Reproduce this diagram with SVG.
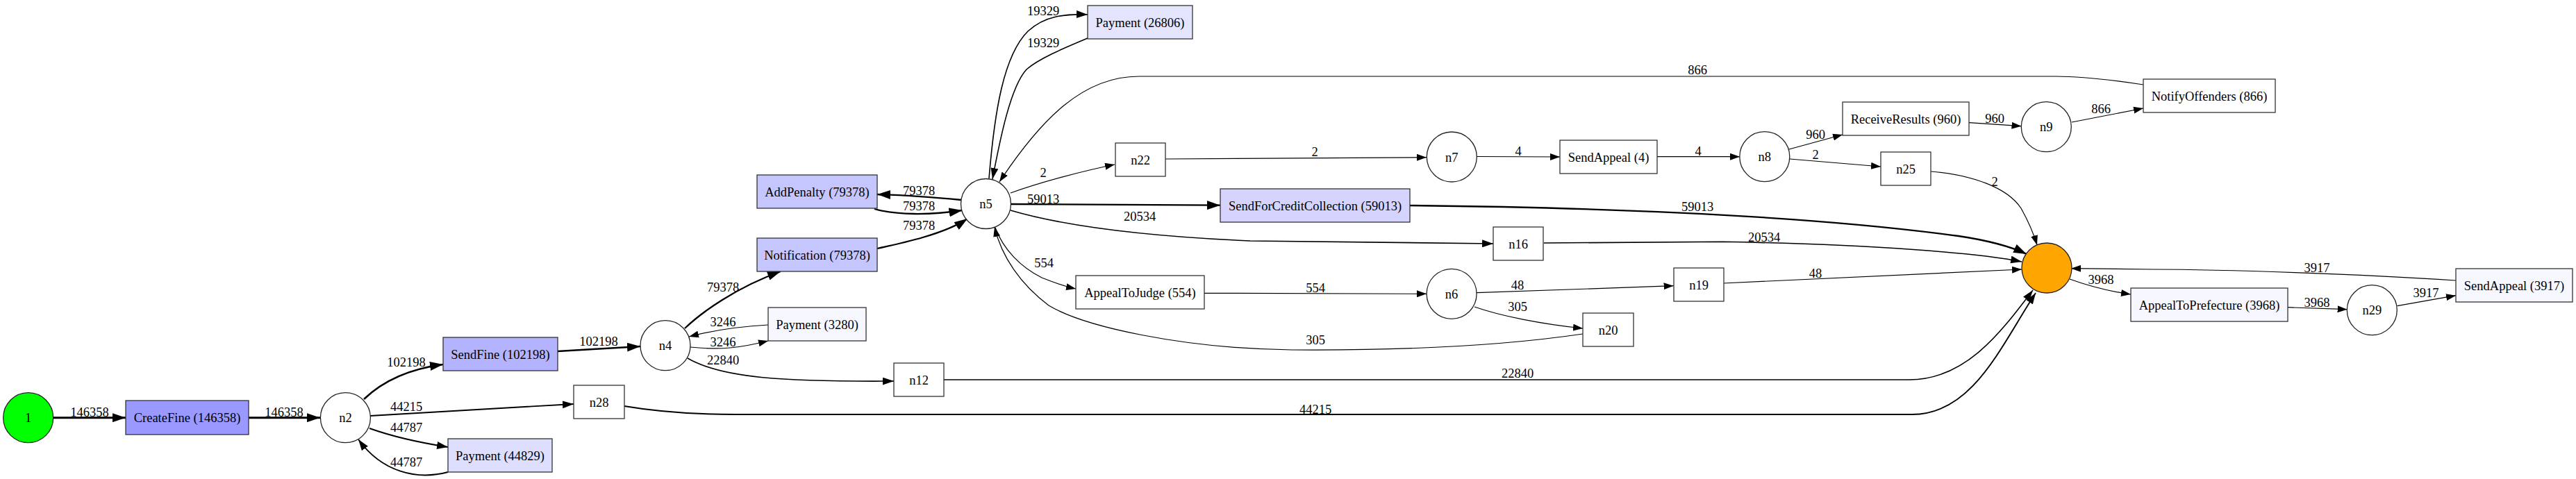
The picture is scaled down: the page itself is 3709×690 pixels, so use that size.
<svg xmlns="http://www.w3.org/2000/svg" width="3709" height="690" viewBox="0 0 3709 690">
<style>
text{font-family:"Liberation Serif","Times New Roman",serif;font-size:18.5px;fill:#000}
.nt{text-anchor:middle}
.el{text-anchor:middle}
.box{stroke:#333;stroke-width:1.3}
.circ{fill:#fff;stroke:#222;stroke-width:1.3}
.e{fill:none;stroke:#000}
.w1{stroke-width:1.2;marker-end:url(#a1)}
.w2{stroke-width:1.6;marker-end:url(#a2)}
.w3{stroke-width:1.9;marker-end:url(#a2)}
.w4{stroke-width:2.3;marker-end:url(#a3)}
.w5{stroke-width:2.6;marker-end:url(#a3)}
.w6{stroke-width:3;marker-end:url(#a3)}
</style>
<defs>
<marker id="a1" markerUnits="userSpaceOnUse" viewBox="0 0 14 10" markerWidth="14" markerHeight="10" refX="14" refY="5" orient="auto"><path d="M0,0 L14,5 L0,10 z" fill="#000"/></marker>
<marker id="a2" markerUnits="userSpaceOnUse" viewBox="0 0 16 11" markerWidth="16" markerHeight="11" refX="16" refY="5.5" orient="auto"><path d="M0,0 L16,5.5 L0,11 z" fill="#000"/></marker>
<marker id="a3" markerUnits="userSpaceOnUse" viewBox="0 0 19 13" markerWidth="19" markerHeight="13" refX="19" refY="6.5" orient="auto"><path d="M0,0 L19,6.5 L0,13 z" fill="#000"/></marker>
</defs>
<rect width="3709" height="690" fill="#fff"/>
<g id="connectors">
<path class="e w6" d="M77,601.7 L181,601.7"/><text class="el" x="129" y="600">146358</text>
<path class="e w6" d="M358,601.7 L461,601.7"/><text class="el" x="409" y="600">146358</text>
<path class="e w5" d="M524,575 C548,552 585,532 638,525"/><text class="el" x="585" y="527.5">102198</text>
<path class="e w3" d="M533,599 C620,594 750,586 826,582"/><text class="el" x="585" y="591.5">44215</text>
<path class="e w3" d="M532,617 C560,627 600,637 645,644"/><text class="el" x="585" y="621.5">44787</text>
<path class="e w3" d="M645,680 C600,692 550,680 516,633"/><text class="el" x="585" y="671.5">44787</text>
<path class="e w5" d="M803,506 L922,499"/><text class="el" x="862" y="498">102198</text>
<path class="e w4" d="M986,473 C1010,450 1060,414 1124,391"/><text class="el" x="1041" y="420">79378</text>
<path class="e w1" d="M1106,468 C1070,470 1030,475 992,485"/><text class="el" x="1041" y="470">3246</text>
<path class="e w1" d="M994,500 C1040,505 1070,500 1106,491"/><text class="el" x="1041" y="499">3246</text>
<path class="e w2" d="M990,516 C1040,545 1130,550 1287,549"/><text class="el" x="1041" y="525">22840</text>
<path class="e w3" d="M899,585 C940,592 990,597 1060,597 L2753,597 C2840,597 2880,500 2931,422"/><text class="el" x="1894" y="595.5">44215</text>
<path class="e w2" d="M1359,547 L2749,547 C2830,547 2880,480 2927,418"/><text class="el" x="2185" y="544">22840</text>
<path class="e w4" d="M1263,358 C1300,350 1360,337 1393,315"/><text class="el" x="1323" y="331">79378</text>
<path class="e w4" d="M1384,288 C1340,284 1300,281 1263,280"/><text class="el" x="1323" y="280.5">79378</text>
<path class="e w4" d="M1259,301 C1290,310 1340,310 1385.5,303"/><text class="el" x="1323" y="303">79378</text>
<path class="e w2" d="M1424,257 C1432,160 1445,80 1480,45 C1505,22 1535,20 1566,21"/><text class="el" x="1502" y="21.5">19329</text>
<path class="e w2" d="M1566,55 C1530,70 1495,85 1478,100 C1455,125 1440,200 1429,258"/><text class="el" x="1502" y="67.5">19329</text>
<path class="e w1" d="M3086,122 C3040,115 3000,110 2960,110 L1640,110 C1560,110 1500,170 1439,262"/><text class="el" x="2444" y="106.5">866</text>
<path class="e w1" d="M1455,278 C1500,262 1560,246 1605,237"/><text class="el" x="1502" y="255">2</text>
<path class="e w4" d="M1455,294 L1757,295.7"/><text class="el" x="1502" y="292.5">59013</text>
<path class="e w2" d="M1455,303 C1530,325 1640,340 1800,347 L2150,351"/><text class="el" x="1641" y="318">20534</text>
<path class="e w1" d="M1433,328 C1445,360 1470,385 1500,400 C1520,408 1535,413 1549,416"/><text class="el" x="1503" y="385">554</text>
<path class="e w1" d="M2279,481 C2150,500 2000,505 1860,504 C1700,502 1560,470 1510,440 C1470,410 1442,370 1432,327"/><text class="el" x="1894" y="495.5">305</text>
<path class="e w1" d="M1678,229 L2054,226.7"/><text class="el" x="1893" y="225">2</text>
<path class="e w1" d="M2126,225.5 L2246,226"/><text class="el" x="2186" y="224">4</text>
<path class="e w1" d="M2386,225.7 L2505,225.7"/><text class="el" x="2445" y="224">4</text>
<path class="e w1" d="M2576,215 L2653,194"/><text class="el" x="2614" y="200">960</text>
<path class="e w1" d="M2577,229 L2708,240"/><text class="el" x="2614" y="229">2</text>
<path class="e w1" d="M2835,176.7 L2910.5,181.7"/><text class="el" x="2872" y="176.5">960</text>
<path class="e w1" d="M2983,176 L3086,156"/><text class="el" x="3025" y="163">866</text>
<path class="e w1" d="M2780,247 C2840,252 2890,270 2910,300 C2920,318 2928,336 2933,353"/><text class="el" x="2872" y="267.5">2</text>
<path class="e w4" d="M2030,296 C2300,299 2600,310 2820,340 C2860,346 2895,355 2918,366"/><text class="el" x="2444" y="304">59013</text>
<path class="e w2" d="M2223,350 L2480,348.3 C2700,352 2850,365 2911,377"/><text class="el" x="2540" y="348">20534</text>
<path class="e w1" d="M2481,408 L2911,388"/><text class="el" x="2614" y="400">48</text>
<path class="e w1" d="M1734,422.3 L2054,423.3"/><text class="el" x="1894" y="420.5">554</text>
<path class="e w1" d="M2126,421.7 L2409.6,411.7"/><text class="el" x="2185" y="416.5">48</text>
<path class="e w1" d="M2123,442 C2160,455 2220,467 2279,473"/><text class="el" x="2185" y="448">305</text>
<path class="e w1" d="M2980,402 C3010,413 3040,420 3068,424"/><text class="el" x="3025" y="409">3968</text>
<path class="e w1" d="M3294,442.7 L3379.6,445.7"/><text class="el" x="3336" y="441.5">3968</text>
<path class="e w1" d="M3451.5,440.7 L3536,425.7"/><text class="el" x="3493" y="428">3917</text>
<path class="e w1" d="M3536,404 C3400,395 3200,388 3100,388 L2982,386.7"/><text class="el" x="3336" y="392">3917</text>
</g>
<g id="node-start"><circle cx="40.7" cy="601.7" r="36" fill="#00ff00" stroke="#222" stroke-width="1.3"/><text class="nt" x="40.7" y="608">1</text></g>
<g id="node-CreateFine"><rect class="box" x="181" y="577" width="177" height="49" fill="#9999ff"/><text class="nt" x="269.5" y="608">CreateFine (146358)</text></g>
<g id="node-n2"><circle class="circ" cx="497.4" cy="601.7" r="36"/><text class="nt" x="497.4" y="608">n2</text></g>
<g id="node-SendFine"><rect class="box" x="638" y="486" width="165" height="48" fill="#b3b3ff"/><text class="nt" x="720.5" y="516.5">SendFine (102198)</text></g>
<g id="node-Payment44829"><rect class="box" x="645" y="632" width="150" height="48" fill="#dedeff"/><text class="nt" x="720" y="662.5">Payment (44829)</text></g>
<g id="node-n28"><rect class="box" x="826" y="555" width="73" height="48" fill="#fff"/><text class="nt" x="862.5" y="585.5">n28</text></g>
<g id="node-n4"><circle class="circ" cx="958" cy="497.7" r="36"/><text class="nt" x="958" y="504">n4</text></g>
<g id="node-Notification"><rect class="box" x="1090" y="343" width="173" height="48" fill="#c6c6ff"/><text class="nt" x="1176.5" y="373.5">Notification (79378)</text></g>
<g id="node-AddPenalty"><rect class="box" x="1090" y="252" width="173" height="48" fill="#c6c6ff"/><text class="nt" x="1176.5" y="282.5">AddPenalty (79378)</text></g>
<g id="node-Payment3280"><rect class="box" x="1106" y="443" width="141" height="48" fill="#f7f7ff"/><text class="nt" x="1176.5" y="473.5">Payment (3280)</text></g>
<g id="node-n12"><rect class="box" x="1287" y="523" width="72" height="48" fill="#fff"/><text class="nt" x="1323" y="553.5">n12</text></g>
<g id="node-n5"><circle class="circ" cx="1419.5" cy="293.5" r="36"/><text class="nt" x="1419.5" y="300">n5</text></g>
<g id="node-Payment26806"><rect class="box" x="1566" y="8" width="151" height="48" fill="#e4e4ff"/><text class="nt" x="1641.5" y="38.5">Payment (26806)</text></g>
<g id="node-n22"><rect class="box" x="1606" y="206" width="72" height="48" fill="#fff"/><text class="nt" x="1642" y="236.5">n22</text></g>
<g id="node-AppealToJudge"><rect class="box" x="1549" y="397" width="185" height="48" fill="#fff"/><text class="nt" x="1641.5" y="427.5">AppealToJudge (554)</text></g>
<g id="node-SendForCreditCollection"><rect class="box" x="1757" y="272" width="273" height="48" fill="#d4d4ff"/><text class="nt" x="1893.5" y="302.5">SendForCreditCollection (59013)</text></g>
<g id="node-n7"><circle class="circ" cx="2090.3" cy="226" r="36"/><text class="nt" x="2090.3" y="232.5">n7</text></g>
<g id="node-n6"><circle class="circ" cx="2090.1" cy="423.3" r="36"/><text class="nt" x="2090.1" y="430">n6</text></g>
<g id="node-n16"><rect class="box" x="2150" y="327" width="72" height="48" fill="#fff"/><text class="nt" x="2186" y="357.5">n16</text></g>
<g id="node-SendAppeal4"><rect class="box" x="2246" y="202" width="140" height="48" fill="#fff"/><text class="nt" x="2316" y="232.5">SendAppeal (4)</text></g>
<g id="node-n20"><rect class="box" x="2279" y="451" width="73" height="48" fill="#fff"/><text class="nt" x="2315.5" y="481.5">n20</text></g>
<g id="node-n19"><rect class="box" x="2410" y="386" width="72" height="48" fill="#fff"/><text class="nt" x="2446" y="416.5">n19</text></g>
<g id="node-n8"><circle class="circ" cx="2540.8" cy="225.7" r="36"/><text class="nt" x="2540.8" y="232">n8</text></g>
<g id="node-ReceiveResults"><rect class="box" x="2653" y="147" width="182" height="48" fill="#fff"/><text class="nt" x="2744" y="177.5">ReceiveResults (960)</text></g>
<g id="node-n25"><rect class="box" x="2708" y="219" width="72" height="48" fill="#fff"/><text class="nt" x="2744" y="249.5">n25</text></g>
<g id="node-n9"><circle class="circ" cx="2946.3" cy="182.7" r="36"/><text class="nt" x="2946.3" y="189">n9</text></g>
<g id="node-end"><circle cx="2947" cy="386" r="36" fill="#ffa500" stroke="#222" stroke-width="1.3"/></g>
<g id="node-NotifyOffenders"><rect class="box" x="3086" y="114" width="190" height="48" fill="#fff"/><text class="nt" x="3181" y="144.5">NotifyOffenders (866)</text></g>
<g id="node-AppealToPrefecture"><rect class="box" x="3068" y="415" width="226" height="48" fill="#f7f7ff"/><text class="nt" x="3181" y="445.5">AppealToPrefecture (3968)</text></g>
<g id="node-n29"><circle class="circ" cx="3415.3" cy="446.7" r="36"/><text class="nt" x="3415.3" y="453">n29</text></g>
<g id="node-SendAppeal3917"><rect class="box" x="3536" y="387" width="168" height="48" fill="#f7f7ff"/><text class="nt" x="3620" y="417.5">SendAppeal (3917)</text></g>
</svg>
